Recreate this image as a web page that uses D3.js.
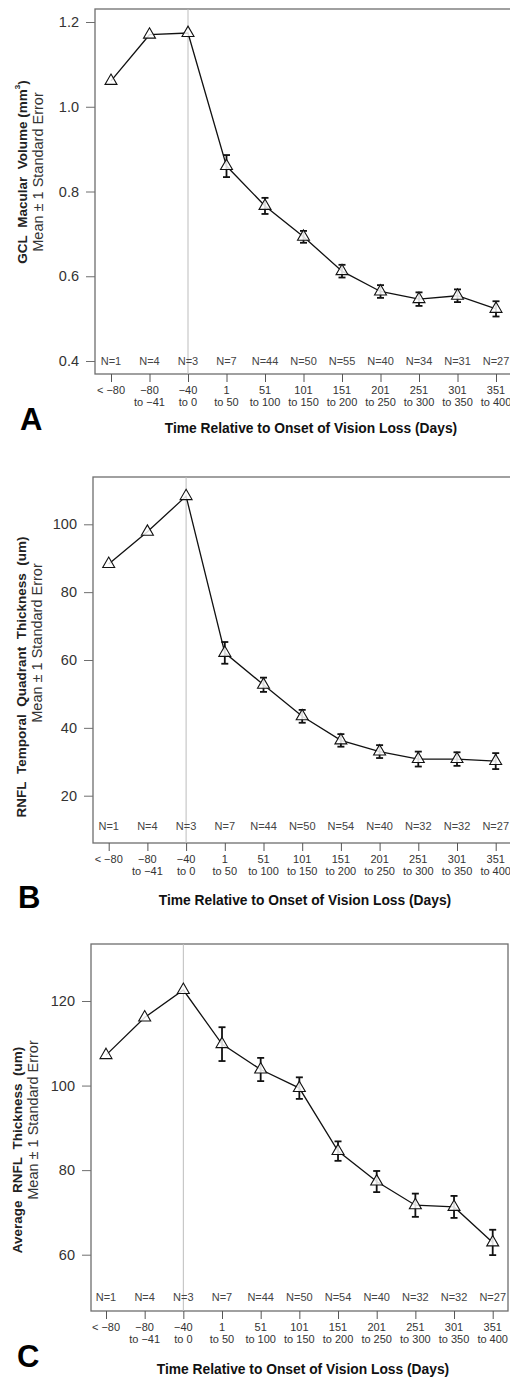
<!DOCTYPE html>
<html>
<head>
<meta charset="utf-8">
<script src="https://cdn.jsdelivr.net/npm/d3@7"></script>
<style>
body { margin: 0; background: #fff; }
svg { display: block; font-family: "Liberation Sans", Arial, sans-serif; }
</style>
</head>
<body>
<div id="chart"></div>
<script>
// categories (two-line tick labels)
var catLine1 = ['< \u221280', '\u221280', '\u221240', '1', '51', '101', '151', '201', '251', '301', '351'];
var catLine2 = ['', 'to \u221241', 'to 0', 'to 50', 'to 100', 'to 150', 'to 200', 'to 250', 'to 300', 'to 350', 'to 400'];

// panel A: GCL macular volume
var meanA = [1.061, 1.170, 1.174, 0.860, 0.766, 0.693, 0.612, 0.564, 0.546, 0.554, 0.523];
var seA   = [null, null, null, 0.026, 0.019, 0.014, 0.015, 0.015, 0.016, 0.015, 0.018];
var nA    = [1, 4, 3, 7, 44, 50, 55, 40, 34, 31, 27];
var ticksA = [0.4, 0.6, 0.8, 1.0, 1.2];

// panel B: RNFL temporal quadrant thickness
var meanB = [88.3, 97.8, 108.3, 62.1, 52.7, 43.4, 36.3, 33.0, 30.8, 30.8, 30.2];
var seB   = [null, null, null, 3.2, 2.1, 1.9, 1.85, 1.9, 2.2, 2.0, 2.35];
var nB    = [1, 4, 3, 7, 44, 50, 54, 40, 32, 32, 27];
var ticksB = [20, 40, 60, 80, 100];

// panel C: average RNFL thickness
var meanC = [107.2, 116.1, 122.6, 109.8, 103.8, 99.4, 84.5, 77.3, 71.7, 71.3, 62.9];
var seC   = [null, null, null, 4.0, 2.75, 2.55, 2.3, 2.5, 2.75, 2.6, 3.0];
var nC    = [1, 4, 3, 7, 44, 50, 54, 40, 32, 32, 27];
var ticksC = [60, 80, 100, 120];

var xTitle = 'Time Relative to Onset of Vision Loss (Days)';

var svg = d3.select('#chart').append('svg')
	.attr('width', 510)
	.attr('height', 1377);

function drawPanel(p) {
	var g = svg.append('g');

	var x = d3.scaleLinear().domain([0, 10]).range([p.x0, p.x10]);
	var y = d3.scaleLinear().domain(p.yDom).range(p.yPix);

	// box
	g.append('rect')
		.attr('x', p.left).attr('y', p.top)
		.attr('width', p.right - p.left).attr('height', p.bottom - p.top)
		.attr('fill', 'none').attr('stroke', '#6e6e6e').attr('stroke-width', 1.3);

	// onset reference line
	g.append('line')
		.attr('x1', x(2)).attr('x2', x(2))
		.attr('y1', p.top).attr('y2', p.bottom)
		.attr('stroke', '#bdbdbd').attr('stroke-width', 1);

	// y axis
	var yAxis = d3.axisLeft(y).tickValues(p.ticks).tickSize(9).tickPadding(7)
		.tickFormat(p.fmt);
	var ya = g.append('g').attr('transform', 'translate(' + p.left + ',0)').call(yAxis);
	ya.select('.domain').remove();
	ya.selectAll('line').attr('stroke', '#6e6e6e');
	ya.selectAll('text').attr('fill', '#333').style('font-size', '14.5px')
		.style('font-family', '"Liberation Sans", Arial, sans-serif');

	// x axis ticks
	var xa = g.append('g').attr('transform', 'translate(0,' + p.bottom + ')')
		.call(d3.axisBottom(x).tickValues(d3.range(11)).tickSize(8).tickFormat(''));
	xa.select('.domain').remove();
	xa.selectAll('line').attr('stroke', '#555');

	var lab = g.selectAll('.xlab').data(catLine1).enter().append('text')
		.attr('class', 'xlab')
		.attr('x', function(d, i) { return x(i); })
		.attr('y', p.bottom + 20)
		.attr('text-anchor', 'middle')
		.attr('fill', '#333')
		.style('font-size', '11px');
	lab.append('tspan').text(function(d) { return d; });
	lab.append('tspan')
		.attr('x', function(d, i) { return x(i); })
		.attr('dy', 12)
		.text(function(d, i) { return catLine2[i]; });

	// N labels
	g.selectAll('.nlab').data(p.n).enter().append('text')
		.attr('x', function(d, i) { return x(i); })
		.attr('y', p.nY)
		.attr('text-anchor', 'middle')
		.attr('fill', '#444')
		.style('font-size', '11px')
		.text(function(d) { return 'N=' + d; });

	// line
	var line = d3.line()
		.x(function(d, i) { return x(i); })
		.y(function(d) { return y(d); });
	g.append('path').datum(p.mean)
		.attr('d', line)
		.attr('fill', 'none').attr('stroke', '#111').attr('stroke-width', 1.3);

	// error bars
	p.mean.forEach(function(m, i) {
		var se = p.se[i];
		if (se == null) return;
		var cx = x(i), y1 = y(m - se), y2 = y(m + se);
		g.append('line').attr('x1', cx).attr('x2', cx).attr('y1', y1).attr('y2', y2)
			.attr('stroke', '#111').attr('stroke-width', 1.8);
		[y1, y2].forEach(function(yy) {
			g.append('line').attr('x1', cx - 3.5).attr('x2', cx + 3.5).attr('y1', yy).attr('y2', yy)
				.attr('stroke', '#111').attr('stroke-width', 1.8);
		});
	});

	// triangles
	var tri = d3.symbol().type(d3.symbolTriangle).size(62);
	g.selectAll('.pt').data(p.mean).enter().append('path')
		.attr('d', tri)
		.attr('transform', function(d, i) { return 'translate(' + x(i) + ',' + y(d) + ')'; })
		.attr('fill', '#fff').attr('fill-opacity', 0.85)
		.attr('stroke', '#111').attr('stroke-width', 1.1);

	// y titles
	g.append('text')
		.attr('transform', 'translate(' + p.t1x + ',' + p.t1y + ') rotate(-90)')
		.attr('text-anchor', 'middle')
		.attr('dominant-baseline', 'central')
		.attr('fill', '#222')
		.style('font-size', '13.5px').style('font-weight', 'bold')
		.html(p.title);
	g.append('text')
		.attr('transform', 'translate(' + p.t2x + ',' + p.t2y + ') rotate(-90)')
		.attr('text-anchor', 'middle')
		.attr('dominant-baseline', 'central')
		.attr('fill', '#333')
		.style('font-size', '14.5px')
		.text('Mean \u00b1 1 Standard Error');

	// x title
	g.append('text')
		.attr('x', p.xtX).attr('y', p.xtY)
		.attr('text-anchor', 'middle')
		.attr('fill', '#111')
		.style('font-size', '13.8px').style('font-weight', 'bold')
		.text(xTitle);

	// panel letter
	g.append('text')
		.attr('x', p.letterX).attr('y', p.letterY)
		.attr('fill', '#000')
		.style('font-size', '31px').style('font-weight', 'bold')
		.text(p.letter);
}

drawPanel({
	letter: 'A', mean: meanA, se: seA, n: nA, ticks: ticksA,
	fmt: d3.format('.1f'),
	yDom: [0.4, 1.2], yPix: [361, 22],
	left: 95, right: 515, top: 9, bottom: 374,
	x0: 111, x10: 496, nY: 365,
	title: 'GCL\u00a0\u00a0Macular\u00a0\u00a0Volume (mm<tspan dy="-5" font-size="8px">3</tspan><tspan dy="5">)</tspan>',
	t1x: 22, t1y: 172, t2x: 38, t2y: 172,
	xtX: 311, xtY: 433, letterX: 20, letterY: 430
});

drawPanel({
	letter: 'B', mean: meanB, se: seB, n: nB, ticks: ticksB,
	fmt: d3.format('d'),
	yDom: [20, 100], yPix: [795.7, 524.3],
	left: 93, right: 515, top: 477, bottom: 843,
	x0: 108.7, x10: 495.7, nY: 830,
	title: 'RNFL\u00a0\u00a0Temporal\u00a0\u00a0Quadrant\u00a0\u00a0Thickness\u00a0\u00a0(um)',
	t1x: 21, t1y: 677, t2x: 37, t2y: 643,
	xtX: 305, xtY: 905, letterX: 18, letterY: 908
});

drawPanel({
	letter: 'C', mean: meanC, se: seC, n: nC, ticks: ticksC,
	fmt: d3.format('d'),
	yDom: [60, 120], yPix: [1254.7, 1001],
	left: 91, right: 508, top: 944, bottom: 1311,
	x0: 106, x10: 492.7, nY: 1301,
	title: 'Average\u00a0\u00a0RNFL\u00a0\u00a0Thickness\u00a0\u00a0(um)',
	t1x: 17, t1y: 1150, t2x: 33, t2y: 1120,
	xtX: 303, xtY: 1374, letterX: 17, letterY: 1367
});
</script>
</body>
</html>
